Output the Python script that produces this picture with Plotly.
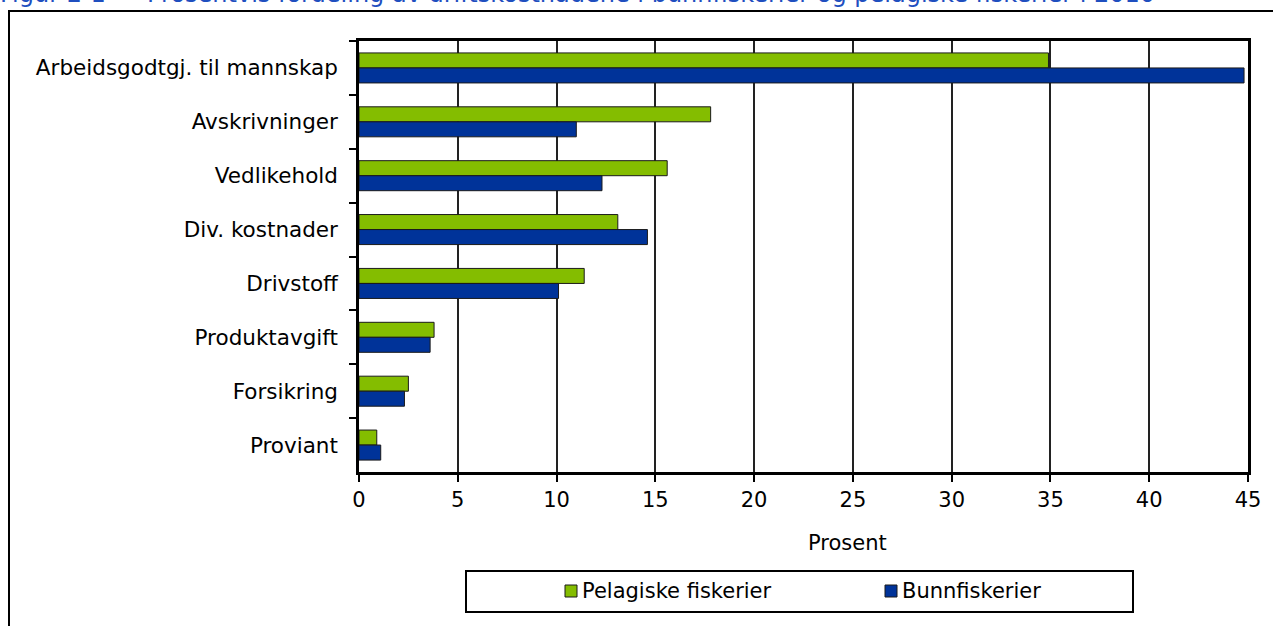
import plotly.graph_objects as go

categories = ["Arbeidsgodtgj. til mannskap", "Avskrivninger", "Vedlikehold", "Div. kostnader",
              "Drivstoff", "Produktavgift", "Forsikring", "Proviant"]
pelagiske = [34.9, 17.8, 15.6, 13.1, 11.4, 3.8, 2.5, 0.9]
bunn = [44.8, 11.0, 12.3, 14.6, 10.1, 3.6, 2.3, 1.1]
x_ticks = [0, 5, 10, 15, 20, 25, 30, 35, 40, 45]
series_names = ["Pelagiske fiskerier", "Bunnfiskerier"]

W, H = 1273, 626
L, R, T, B = 359, 1248, 41, 472


def px_x(p):
    return (p - L) / (R - L)


def px_y(p):
    return (B - p) / (B - T)


FONT = "DejaVu Sans"
GREEN = "#84BD00"
BLUE = "#003399"
TITLE_BLUE = "#1F4FBF"
colors = [GREEN, BLUE]

fig = go.Figure()
for name, vals, col in zip(series_names, [pelagiske, bunn], colors):
    fig.add_trace(go.Bar(y=categories, x=vals, orientation="h", name=name,
                         marker=dict(color=col, line=dict(color="#1a1a1a", width=1))))

shapes = [
    dict(type="rect", xref="paper", yref="paper", x0=px_x(9), x1=px_x(1300),
         y0=px_y(11), y1=px_y(700), line=dict(color="black", width=2), layer="below"),
    dict(type="rect", xref="paper", yref="paper", x0=px_x(466), x1=px_x(1133),
         y0=px_y(571), y1=px_y(612), line=dict(color="black", width=2), layer="below"),
]
annotations = [
    dict(text="Figur 2-1", xref="paper", yref="paper", x=px_x(-2), xanchor="left",
         y=px_y(10), yanchor="bottom", showarrow=False,
         font=dict(family=FONT, size=24, color=TITLE_BLUE)),
    dict(text="Prosentvis fordeling av driftskostnadene i bunnfiskerier og pelagiske fiskerier i 2010",
         xref="paper", yref="paper", x=px_x(145), xanchor="left",
         y=px_y(10), yanchor="bottom", showarrow=False,
         font=dict(family=FONT, size=24, color=TITLE_BLUE)),
    dict(text="Prosent", xref="paper", yref="paper", x=px_x(847), xanchor="center",
         y=px_y(543), yanchor="middle", showarrow=False,
         font=dict(family=FONT, size=21, color="black")),
]
# manual legend
for name, col, mx in zip(series_names, colors, [571, 891]):
    shapes.append(dict(type="rect", xref="paper", yref="paper",
                       x0=px_x(mx - 6), x1=px_x(mx + 6), y0=px_y(597), y1=px_y(585),
                       fillcolor=col, line=dict(color="#1a1a1a", width=1)))
    annotations.append(dict(text=name, xref="paper", yref="paper", x=px_x(mx + 9),
                            xanchor="left", y=px_y(591), yanchor="middle", showarrow=False,
                            font=dict(family=FONT, size=21, color="black")))

fig.update_layout(
    width=W, height=H,
    margin=dict(l=L, r=W - R, t=T, b=H - B, autoexpand=False),
    paper_bgcolor="white", plot_bgcolor="white",
    barmode="group", bargap=0.443, bargroupgap=0,
    font=dict(family=FONT, size=21, color="black"),
    showlegend=False,
    xaxis=dict(range=[0, 45], tickvals=x_ticks, ticktext=[str(v) for v in x_ticks],
               showgrid=True, gridcolor="#222222", gridwidth=1.5, zeroline=False,
               showline=True, linecolor="black", linewidth=2.5, mirror=True,
               ticks="outside", ticklen=7, tickwidth=2, tickcolor="black",
               ticklabelstandoff=0, fixedrange=True, automargin=False),
    yaxis=dict(categoryorder="array", categoryarray=categories, autorange="reversed",
               showgrid=False, zeroline=False,
               showline=True, linecolor="black", linewidth=2.5, mirror=True,
               ticks="outside", ticklen=7, tickwidth=2, tickcolor="black",
               tickson="boundaries", ticklabelstandoff=14, fixedrange=True, automargin=False,
               tickfont=dict(family=FONT, size=21.5, color="black")),
    shapes=shapes,
    annotations=annotations,
)

fig.write_html("out.html", config={"displayModeBar": False},
               post_script="document.body.style.margin='0';document.body.style.overflow='hidden';")
